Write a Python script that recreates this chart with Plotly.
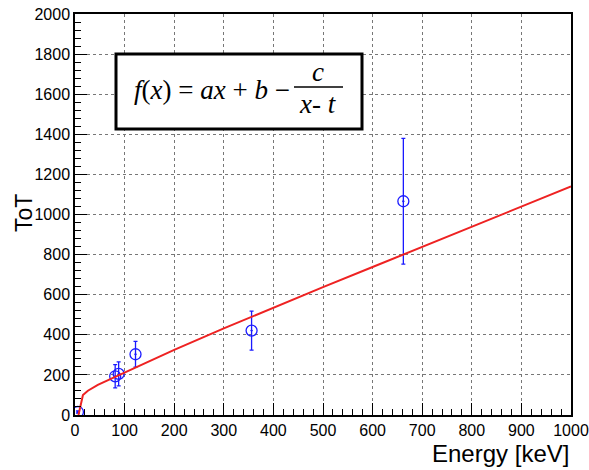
import plotly.graph_objects as go

# Measured calibration points
energy_kev = [5.9, 81.0, 88.0, 122.0, 356.0, 662.0]
tot_value = [15.0, 193.0, 205.0, 303.0, 421.0, 1066.0]
tot_error = [5.0, 58.0, 60.0, 64.0, 97.0, 314.0]

# Fitted curve f(x) = a*x + b - c/(x - t), sampled along the energy axis
fit_energy = [7, 16, 26, 36, 46, 58, 80, 100, 140, 200, 300, 400, 500, 600, 700, 800, 900, 1000]
fit_tot = [0, 100, 121, 136, 150, 164, 189, 211, 256, 325, 432, 536, 638, 738, 838, 938, 1039, 1140]

x_ticks = list(range(0, 1001, 100))
y_ticks = list(range(0, 2001, 200))

W, H = 589, 470
L, R, T, B = 75, 18, 14, 55
PW, PH = W - L - R, H - T - B


def px_x(p):
    return (p - L) / PW


def px_y(p):
    return (H - B - p) / PH


fig = go.Figure()

fig.add_trace(go.Scatter(
    x=energy_kev, y=tot_value, mode="markers",
    marker=dict(symbol="circle-open-dot", size=11, color="#1a1aff",
                line=dict(width=1.3, color="#1a1aff")),
    error_y=dict(type="data", array=tot_error, visible=True,
                 color="#1a1aff", thickness=1.3, width=2),
    showlegend=False,
))

fig.add_trace(go.Scatter(
    x=fit_energy, y=fit_tot, mode="lines",
    line=dict(color="#ee2222", width=2),
    showlegend=False,
))

axis_font = dict(family="Liberation Sans, Arial, sans-serif", size=16, color="black")

fig.update_xaxes(
    range=[0, 1000], tickvals=x_ticks, ticks="inside", ticklen=12, tickwidth=1,
    tickcolor="black", showline=True, linecolor="black", linewidth=1.5, mirror=True,
    showgrid=True, gridcolor="#777", griddash="dot", gridwidth=1,
    minor=dict(dtick=20, ticks="inside", ticklen=6, tickcolor="black", showgrid=False),
    tickfont=axis_font, zeroline=False, ticklabeloverflow="allow", automargin=False,
)
fig.update_yaxes(
    range=[0, 2000], tickvals=y_ticks, ticks="inside", ticklen=12, tickwidth=1,
    tickcolor="black", showline=True, linecolor="black", linewidth=1.5, mirror=True,
    showgrid=True, gridcolor="#777", griddash="dot", gridwidth=1,
    minor=dict(dtick=40, ticks="inside", ticklen=6, tickcolor="black", showgrid=False),
    tickfont=axis_font, zeroline=False, ticklabeloverflow="allow", automargin=False,
)

serif = "Liberation Serif, Times New Roman, serif"

shapes = [
    # formula box
    dict(type="rect", xref="paper", yref="paper",
         x0=px_x(116), x1=px_x(362), y0=px_y(129), y1=px_y(54),
         line=dict(color="black", width=3), fillcolor="white", layer="above"),
    # fraction bar
    dict(type="line", xref="paper", yref="paper",
         x0=px_x(294), x1=px_x(343), y0=px_y(87), y1=px_y(87),
         line=dict(color="black", width=1.5), layer="above"),
]

annotations = [
    dict(text="<i>f</i>(<i>x</i>) = <i>ax</i> + <i>b</i> \u2212", xref="paper", yref="paper",
         x=px_x(292), y=px_y(90), xanchor="right", yanchor="middle", showarrow=False,
         font=dict(family=serif, size=27, color="black")),
    dict(text="<i>c</i>", xref="paper", yref="paper",
         x=px_x(318), y=px_y(72), xanchor="center", yanchor="middle", showarrow=False,
         font=dict(family=serif, size=27, color="black")),
    dict(text="<i>x</i>- <i>t</i>", xref="paper", yref="paper",
         x=px_x(318), y=px_y(104), xanchor="center", yanchor="middle", showarrow=False,
         font=dict(family=serif, size=27, color="black")),
    dict(text="Energy [keV]", xref="paper", yref="paper",
         x=1.0, y=px_y(453), xanchor="right", yanchor="middle", showarrow=False,
         font=dict(family="Liberation Sans, Arial, sans-serif", size=24, color="black")),
    dict(text="ToT", xref="paper", yref="paper", textangle=-90,
         x=px_x(24), y=px_y(213), xanchor="center", yanchor="middle", showarrow=False,
         font=dict(family="Liberation Sans, Arial, sans-serif", size=23, color="black")),
]

fig.update_layout(
    width=W, height=H,
    margin=dict(l=L, r=R, t=T, b=B),
    paper_bgcolor="white", plot_bgcolor="white",
    shapes=shapes, annotations=annotations,
)

fig.write_html("out.html")
